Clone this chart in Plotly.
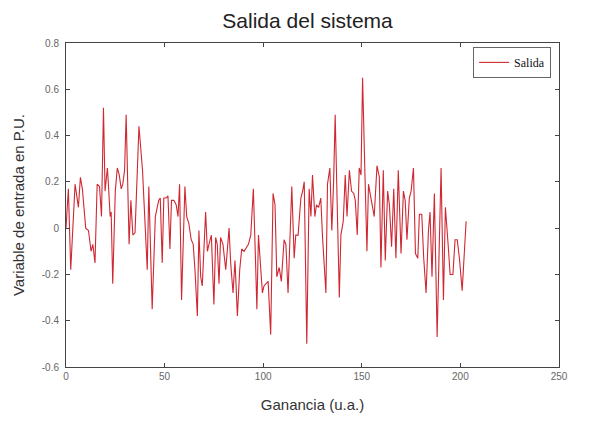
import plotly.graph_objects as go

x_vals = [0, 1.2, 2.4, 4.6, 6.3, 7.3, 8.3, 10, 11.4, 12.7, 13.6, 14.7, 15.8, 17, 18, 19, 19.8, 21, 21.5, 22.4,
          22.9, 23.7, 25, 26, 27, 28, 28.8, 29.7, 30.5, 31.4, 32, 32.9, 33.9, 35, 37, 38.8, 39.8, 41.2, 42, 43.7,
          45.3, 47, 47.8, 48.8, 49.6, 50.8, 51.7, 52.7, 53.5, 54.7, 55.9, 56.8, 57.6, 58.6, 60.3, 61.2, 62.3, 63.5, 64.5, 65.4,
          66.6, 67.4, 68.3, 69.1, 70.8, 71.7, 72.5, 73.7, 75, 75.9, 76.7, 77.6, 78.4, 79.6, 81, 81.8, 82.7, 83.5, 84.7, 85.7,
          86.9, 88.1, 89.1, 90.3, 91.5, 92.5, 93.7, 95, 95.9, 96.8, 97.6, 98.7, 99.6, 100.4, 101.3, 102.5, 103.8, 105, 106, 106.9,
          108.1, 109.2, 110.6, 111.5, 112.6, 113.7, 114.5, 115.7, 116.5, 117.7, 119.1, 120, 120.8, 122.1, 123.3, 124.2, 125, 126.2, 127, 128.1,
          129.2, 130.1, 130.9, 131.8, 132.6, 133.8, 134.8, 135.7, 136.5, 137.7, 138.6, 139.4, 140.6, 141.6, 142.5, 143.7, 144.8, 145.9, 146.7, 147.7,
          148.7, 149.6, 150.4, 151.6, 152.6, 153.4, 154.6, 156.3, 157.7, 158.9, 159.7, 160.9, 161.9, 163.1, 164, 165.1, 166.2, 167.3, 168.5, 169.9,
          171.1, 172, 172.9, 174.1, 175, 176.2, 177.2, 178.4, 179.2, 180.4, 181.4, 182.6, 183.8, 184.6, 185.6, 186.8, 188.2, 189.4, 190.2, 191.4,
          192.4, 193.6, 194.8, 196.2, 197.3, 198.4, 199.5, 200.9, 202.9]

salida = [0.0, 0.17, -0.18, 0.19, 0.09, 0.22, 0.17, 0.0, -0.01, -0.10, -0.07, -0.15, 0.19, 0.18, 0.05, 0.52, 0.16, 0.26, 0.19, 0.05,
          0.07, -0.24, 0.16, 0.26, 0.23, 0.17, 0.19, 0.25, 0.49, 0.20, -0.07, 0.12, -0.03, -0.02, 0.44, 0.25, 0.05, -0.18, 0.18, -0.35,
          0.05, 0.12, 0.13, -0.15, 0.13, 0.13, 0.14, -0.09, 0.12, 0.12, 0.10, 0.05, 0.19, -0.31, 0.18, 0.05, 0.02, -0.05, -0.07, -0.18,
          -0.38, -0.01, -0.21, -0.25, 0.07, -0.10, -0.07, -0.03, -0.33, -0.04, -0.07, -0.24, -0.04, -0.07, -0.18, -0.10, 0.0, -0.15, -0.28, -0.14,
          -0.38, -0.18, -0.09, -0.10, -0.08, -0.07, -0.03, 0.17, -0.08, -0.35, -0.03, -0.18, -0.28, -0.25, -0.24, -0.23, -0.46, 0.15, 0.10, -0.21,
          -0.17, -0.23, -0.05, -0.07, -0.28, 0.02, 0.18, -0.13, -0.03, -0.03, 0.13, 0.16, 0.20, -0.50, 0.17, 0.05, 0.23, 0.05, 0.10, 0.09,
          0.13, -0.04, -0.18, -0.28, 0.19, 0.26, -0.01, 0.20, 0.49, -0.01, -0.30, -0.03, 0.03, 0.23, 0.05, 0.25, 0.16, 0.15, 0.12, -0.03,
          0.26, 0.23, 0.65, 0.23, -0.10, 0.19, 0.13, 0.05, 0.27, 0.22, -0.17, 0.25, -0.14, 0.16, 0.10, -0.08, 0.17, -0.13, 0.25, -0.11,
          0.16, 0.12, -0.05, 0.13, 0.16, 0.26, -0.11, -0.13, 0.06, 0.06, -0.13, -0.28, -0.01, 0.07, -0.21, 0.15, -0.47, -0.01, 0.26, -0.31,
          0.09, -0.05, -0.20, -0.20, -0.05, -0.05, -0.13, -0.27, 0.03]

x_ticks = [0, 50, 100, 150, 200, 250]
y_ticks = [-0.6, -0.4, -0.2, 0, 0.2, 0.4, 0.6, 0.8]
y_tick_text = ["-0.6", "-0.4", "-0.2", "0", "0.2", "0.4", "0.6", "0.8"]

fig = go.Figure()
fig.add_trace(go.Scatter(x=x_vals, y=salida, mode="lines", name="Salida",
                         line=dict(color="#cf2832", width=1.1)))

axis_common = dict(showline=True, linecolor="#444", linewidth=1, mirror="ticks",
                   ticks="inside", ticklen=4, tickcolor="#444", showgrid=False,
                   zeroline=False, automargin=False,
                   tickfont=dict(family="Liberation Sans", size=10, color="#666"))

fig.update_layout(
    width=600, height=434,
    margin=dict(l=58, r=49, t=35, b=75),
    paper_bgcolor="white", plot_bgcolor="white",
    title=dict(text="Salida del sistema", x=0.49, xref="paper", y=0.972, yref="container",
               xanchor="center", yanchor="middle",
               font=dict(family="Liberation Sans", size=21, color="#222")),
    xaxis=dict(range=[0, 250], tickvals=x_ticks,
               title=dict(text="Ganancia (u.a.)", standoff=18,
                          font=dict(family="Liberation Sans", size=15, color="#333")),
               **axis_common),
    yaxis=dict(range=[-0.6, 0.8], tickvals=y_ticks, ticktext=y_tick_text,
               ticklabelstandoff=4,
               title=dict(text="Variable de entrada en P.U.", standoff=13,
                          font=dict(family="Liberation Sans", size=15, color="#333")),
               **axis_common),
    showlegend=True,
    legend=dict(x=0.984, y=0.988, xanchor="right", yanchor="top",
                bordercolor="#666", borderwidth=1, bgcolor="white",
                itemwidth=30, tracegroupgap=0,
                font=dict(family="Liberation Serif", size=12, color="#111")),
)

fig.write_html("out.html")
